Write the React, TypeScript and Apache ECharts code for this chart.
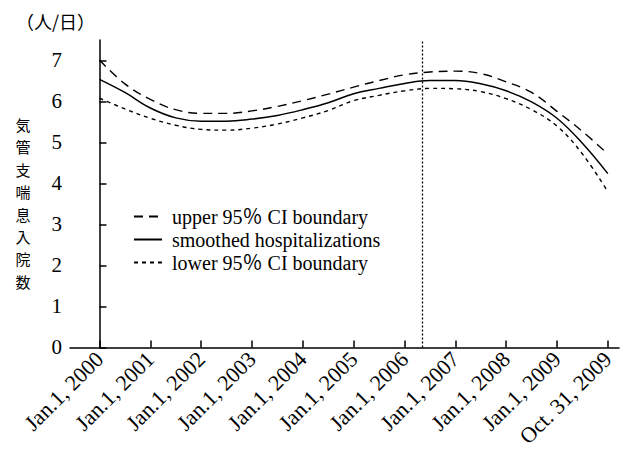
import React, { useEffect, useRef } from "react";
import * as echarts from "echarts";

// x positions (0 = Jan.1, 2000 ... 10 = Oct. 31, 2009; ticks equally spaced)
const xPositions = [0, 0.5, 1, 1.5, 2, 2.5, 3, 3.5, 4, 4.5, 5, 5.5, 6, 6.5, 7, 7.5, 8, 8.5, 9, 9.5, 10];
const smoothedValues = [6.54, 6.22, 5.84, 5.6, 5.52, 5.52, 5.57, 5.66, 5.8, 5.97, 6.19, 6.32, 6.44, 6.51, 6.51, 6.43, 6.26, 5.99, 5.59, 4.98, 4.24];
const upperValues = [7.01, 6.43, 6.05, 5.8, 5.71, 5.71, 5.77, 5.88, 6.02, 6.18, 6.35, 6.51, 6.65, 6.72, 6.74, 6.68, 6.48, 6.22, 5.76, 5.27, 4.72];
const lowerValues = [6.08, 5.82, 5.59, 5.42, 5.32, 5.3, 5.35, 5.45, 5.6, 5.78, 6.02, 6.15, 6.26, 6.32, 6.31, 6.24, 6.07, 5.8, 5.4, 4.72, 3.8];

const tickPositions = [0, 1, 2, 3, 4, 5, 6, 7, 8, 9, 10];
const tickLabels = [
  "Jan.1, 2000",
  "Jan.1, 2001",
  "Jan.1, 2002",
  "Jan.1, 2003",
  "Jan.1, 2004",
  "Jan.1, 2005",
  "Jan.1, 2006",
  "Jan.1, 2007",
  "Jan.1, 2008",
  "Jan.1, 2009",
  "Oct. 31, 2009",
];
const yTicks = [0, 1, 2, 3, 4, 5, 6, 7];
const markerPosition = 6.34;

const seriesNames = ["upper 95％ CI boundary", "smoothed hospitalizations", "lower 95％ CI boundary"];
const yAxisTitle = "気管支喘息入院数";
const unitLabel = "（人/日）";

const SERIF = "'Liberation Serif', 'Times New Roman', 'Noto Sans CJK JP', serif";
const CJK = "'Noto Sans CJK JP', sans-serif";

export default function App() {
  const ref = useRef<HTMLDivElement>(null);
  useEffect(() => {
    if (!ref.current) return;
    const chart = echarts.init(ref.current, undefined, { renderer: "svg" });
    const toPairs = (vals: number[]) => xPositions.map((x, i) => [x, vals[i]]);
    const titleChars = yAxisTitle.split("").map((ch, k) => ({
      type: "text",
      x: 23,
      y: 124.5 + k * 22.4,
      style: {
        text: ch,
        font: `15px ${CJK}`,
        lineHeight: 15,
        fill: "#000",
        align: "center",
        verticalAlign: "middle",
      },
    }));
    const option = {
      animation: false,
      backgroundColor: "#ffffff",
      grid: { left: 70, right: 5, top: 40, bottom: 101, containLabel: false },
      legend: {
        orient: "vertical",
        left: 133,
        top: 205,
        padding: 0,
        itemGap: 0,
        itemWidth: 28,
        itemHeight: 23,
        data: seriesNames,
        itemStyle: { opacity: 0 },
        textStyle: { fontFamily: SERIF, fontSize: 20, lineHeight: 23, color: "#000", padding: [0, 0, 0, 5] },
      },
      xAxis: {
        type: "value",
        min: -0.58,
        max: 10.22,
        splitLine: { show: false },
        axisLine: { show: true, lineStyle: { color: "#000", width: 1.5 } },
        axisTick: {
          show: true,
          inside: true,
          length: 7,
          customValues: tickPositions,
          lineStyle: { color: "#000", width: 1.5 },
        },
        axisLabel: {
          customValues: tickPositions,
          rotate: 45,
          margin: 8,
          fontFamily: SERIF,
          fontSize: 22,
          color: "#000",
          formatter: (v: number) => tickLabels[Math.round(v)] ?? "",
        },
      },
      yAxis: {
        type: "value",
        min: 0,
        max: 7.5,
        splitLine: { show: false },
        axisLine: { show: true, lineStyle: { color: "#000", width: 1.5 } },
        axisTick: {
          show: true,
          inside: true,
          length: 7,
          customValues: yTicks,
          lineStyle: { color: "#000", width: 1.5 },
        },
        axisLabel: {
          customValues: yTicks,
          margin: 8,
          fontFamily: SERIF,
          fontSize: 21,
          color: "#000",
        },
      },
      graphic: [
        {
          type: "text",
          left: 16,
          top: 12,
          style: { text: unitLabel, font: `18px ${CJK}`, fill: "#000" },
        },
        ...titleChars,
      ],
      series: [
        {
          name: seriesNames[0],
          type: "line",
          smooth: 0.4,
          symbol: "none",
          data: toPairs(upperValues),
          lineStyle: { color: "#000", width: 1.4, type: [9, 6] },
          itemStyle: { color: "#000" },
        },
        {
          name: seriesNames[1],
          type: "line",
          smooth: 0.4,
          symbol: "none",
          data: toPairs(smoothedValues),
          lineStyle: { color: "#000", width: 1.5, type: "solid" },
          itemStyle: { color: "#000" },
          markLine: {
            silent: true,
            symbol: "none",
            label: { show: false },
            lineStyle: { color: "#000", width: 1.3, type: [2, 2] },
            data: [{ xAxis: markerPosition }],
          },
        },
        {
          name: seriesNames[2],
          type: "line",
          smooth: 0.4,
          symbol: "none",
          data: toPairs(lowerValues),
          lineStyle: { color: "#000", width: 1.4, type: [4, 4] },
          itemStyle: { color: "#000" },
        },
      ],
    };
    chart.setOption(option as any);
    return () => chart.dispose();
  }, []);
  return (
    <div
      ref={ref}
      style={{ position: "fixed", left: 0, top: 0, width: 624, height: 450, background: "#fff" }}
    />
  );
}
